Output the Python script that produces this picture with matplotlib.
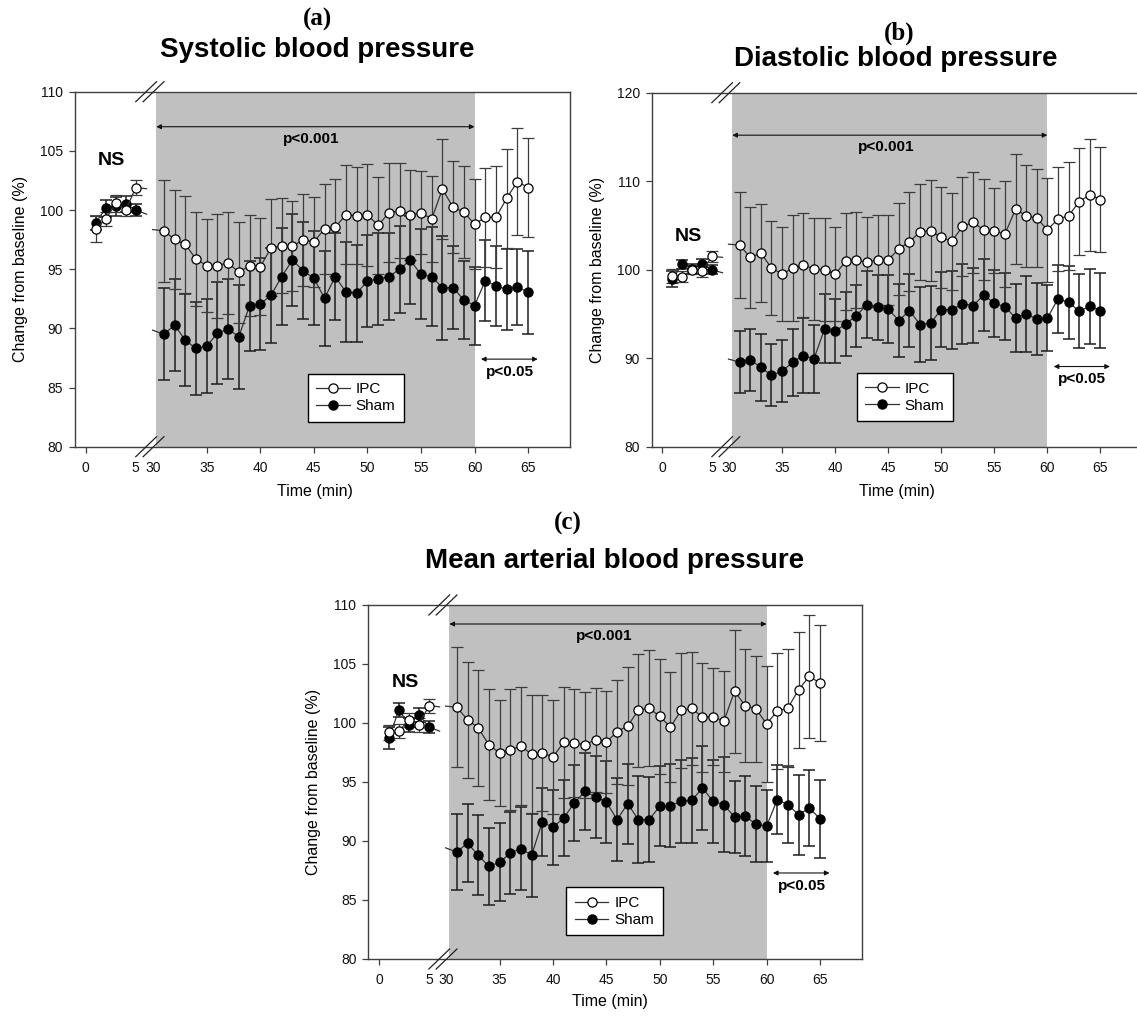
import numpy as np
import matplotlib
matplotlib.use('Agg')
import matplotlib.pyplot as plt
import matplotlib.transforms as mtransforms

plt.rcParams['font.family'] = ['Liberation Sans', 'DejaVu Sans']

# ---------------- data ----------------
base_t = [1, 2, 3, 4, 5]
main_t = list(range(31, 66))

# (a) Systolic
sbp_ipc_base = [98.4, 99.24, 100.56, 100.0, 101.9]
sbp_ipc_base_err = [1.1, 0.6, 0.7, 0.5, 0.6]
sbp_sham_base = [98.93, 100.14, 100.3, 100.5, 100.0]
sbp_sham_base_err = [0.6, 0.7, 0.8, 0.7, 0.5]
sbp_ipc = [98.25, 97.52, 97.1, 95.86, 95.3, 95.3, 95.55, 94.73, 95.3, 95.2,
           96.8, 96.99, 96.96, 97.46, 97.32, 98.4, 98.56, 99.6, 99.52, 99.6,
           98.7, 99.77, 99.94, 99.6, 99.77, 99.24, 101.77, 100.23, 99.83, 98.79,
           99.38, 99.38, 100.99, 102.4, 101.9]
sbp_ipc_err = [4.3, 4.2, 4.1, 4.0, 3.9, 4.4, 4.3, 4.3, 4.25, 4.1,
               4.1, 4.0, 3.8, 3.9, 3.8, 3.8, 4.1, 4.2, 4.1, 4.3,
               4.1, 4.2, 4.0, 3.8, 3.5, 3.6, 4.2, 3.9, 3.9, 3.8,
               4.2, 4.3, 4.2, 4.5, 4.2]
sbp_sham = [89.5, 90.28, 89.0, 88.3, 88.5, 89.58, 89.94, 89.3, 91.9, 92.04,
            92.8, 94.37, 95.77, 94.87, 94.25, 92.54, 94.37, 93.07, 92.96, 94.0,
            94.17, 94.37, 94.99, 95.77, 94.56, 94.37, 93.44, 93.44, 92.4, 91.92,
            94.03, 93.58, 93.3, 93.52, 93.04]
sbp_sham_err = [3.9, 3.9, 3.9, 3.9, 4.0, 4.3, 4.25, 4.4, 3.8, 3.9,
                4.0, 4.1, 3.9, 4.1, 4.0, 4.0, 3.7, 4.2, 4.1, 3.9,
                3.9, 3.7, 3.7, 3.7, 3.8, 4.2, 4.4, 3.5, 3.3, 3.3,
                3.4, 3.4, 3.4, 3.2, 3.5]

# (b) Diastolic
dbp_ipc_base = [99.3, 99.2, 100.0, 99.8, 101.5]
dbp_ipc_base_err = [0.8, 0.6, 0.5, 0.6, 0.6]
dbp_sham_base = [98.9, 100.6, 100.1, 100.6, 100.0]
dbp_sham_base_err = [0.9, 0.5, 0.6, 0.6, 0.5]
dbp_ipc = [102.78, 101.39, 101.88, 100.19, 99.51, 100.19, 100.53, 100.08, 100.0, 99.51,
           100.94, 101.09, 100.83, 101.13, 101.13, 102.33, 103.16, 104.29, 104.4, 103.65,
           103.2, 104.89, 105.34, 104.51, 104.4, 104.02, 106.84, 106.09, 105.83, 104.51,
           105.71, 106.09, 107.7, 108.46, 107.93]
dbp_ipc_err = [6.0, 5.75, 5.5, 5.3, 5.3, 6.0, 5.9, 5.75, 5.8, 5.3,
               5.5, 5.4, 5.1, 5.1, 5.1, 5.2, 5.6, 5.4, 5.7, 5.7,
               5.5, 5.6, 5.7, 5.7, 4.8, 6.0, 6.2, 5.75, 5.5, 5.9,
               5.9, 6.1, 6.0, 6.35, 5.9]
dbp_sham = [89.55, 89.81, 88.98, 88.05, 88.53, 89.55, 90.3, 89.92, 93.31, 93.05,
            93.87, 94.81, 96.05, 95.75, 95.56, 94.25, 95.38, 93.8, 93.98, 95.49,
            95.49, 96.13, 95.94, 97.14, 96.2, 95.83, 94.55, 95.0, 94.44, 94.55,
            96.69, 96.32, 95.3, 95.86, 95.38]
dbp_sham_err = [3.5, 3.5, 3.8, 3.5, 3.5, 3.8, 4.2, 3.8, 3.9, 3.6,
                3.6, 3.5, 3.8, 3.7, 3.8, 4.1, 4.1, 4.2, 4.2, 4.2,
                4.4, 4.5, 4.2, 4.1, 3.8, 3.8, 3.8, 4.3, 4.1, 3.7,
                3.8, 4.1, 4.2, 4.2, 4.2]

# (c) Mean arterial
map_ipc_base = [99.2, 99.3, 100.28, 99.86, 101.47]
map_ipc_base_err = [0.6, 0.6, 0.6, 0.6, 0.6]
map_sham_base = [98.73, 101.13, 99.86, 100.7, 99.66]
map_sham_base_err = [0.9, 0.6, 0.6, 0.6, 0.5]
map_ipc = [101.33, 100.28, 99.58, 98.16, 97.46, 97.74, 98.02, 97.37, 97.46, 97.12,
           98.36, 98.31, 98.16, 98.59, 98.39, 99.24, 99.77, 101.07, 101.27, 100.56,
           99.66, 101.07, 101.24, 100.48, 100.54, 100.14, 102.68, 101.47, 101.19, 99.94,
           100.99, 101.27, 102.82, 103.95, 103.39]
map_ipc_err = [5.1, 4.9, 4.9, 4.7, 4.5, 5.1, 5.0, 5.0, 4.9, 4.8,
               4.7, 4.6, 4.5, 4.4, 4.3, 4.4, 5.0, 4.8, 4.9, 4.9,
               4.7, 4.9, 4.8, 4.6, 4.1, 4.3, 5.2, 4.8, 4.5, 4.9,
               4.9, 5.0, 4.9, 5.2, 4.9]
map_sham = [89.07, 89.83, 88.79, 87.85, 88.19, 88.98, 89.35, 88.79, 91.61, 91.16,
            91.95, 93.22, 94.21, 93.73, 93.31, 91.81, 93.16, 91.81, 91.81, 92.94,
            92.99, 93.36, 93.45, 94.49, 93.36, 93.08, 92.03, 92.09, 91.44, 91.24,
            93.5, 93.08, 92.23, 92.8, 91.89]
map_sham_err = [3.2, 3.3, 3.4, 3.25, 3.3, 3.5, 3.5, 3.5, 2.9, 3.2,
                3.2, 3.2, 3.25, 3.5, 3.5, 3.5, 3.4, 3.7, 3.6, 3.4,
                3.5, 3.5, 3.6, 3.6, 3.5, 4.0, 3.05, 3.4, 3.2, 3.05,
                2.9, 3.25, 3.4, 3.2, 3.3]

tick_vals = [0, 5, 30, 35, 40, 45, 50, 55, 60, 65]
titles = ['Systolic blood pressure', 'Diastolic blood pressure', 'Mean arterial blood pressure']
letters = ['(a)', '(b)', '(c)']
series_labels = ['IPC', 'Sham']


def xmap(t):
    t = np.asarray(t, dtype=float)
    return np.where(t <= 10, t * 0.935, t - 23.71)


W, H = 1137, 1018
fig = plt.figure(figsize=(W / 100, H / 100), dpi=100)


def px_axes(left, top, right, bottom):
    return fig.add_axes([left / W, 1 - bottom / H, (right - left) / W, (bottom - top) / H])


panels = [
    dict(box=(75, 91.7, 570, 446.7), ylim=(80, 110), yticks=np.arange(80, 111, 5),
         ipc_b=sbp_ipc_base, ipc_be=sbp_ipc_base_err, sham_b=sbp_sham_base, sham_be=sbp_sham_base_err,
         ipc=sbp_ipc, ipc_e=sbp_ipc_err, sham=sbp_sham, sham_e=sbp_sham_err,
         p001=(107.04, 106.0), p05=(87.4, 86.3), ns=104.2, leg=(0.567, 0.1375),
         letter=(318, 19), title=(317, 50), xl=(0.485, -0.106)),
    dict(box=(651.7, 92.7, 1141.9, 446.7), ylim=(80, 120), yticks=np.arange(80, 121, 10),
         ipc_b=dbp_ipc_base, ipc_be=dbp_ipc_base_err, sham_b=dbp_sham_base, sham_be=dbp_sham_base_err,
         ipc=dbp_ipc, ipc_e=dbp_ipc_err, sham=dbp_sham, sham_e=dbp_sham_err,
         p001=(115.2, 113.85), p05=(89.06, 87.65), ns=103.8, leg=(0.516, 0.1395),
         letter=(899, 33), title=(896, 59), xl=(0.50, -0.106)),
    dict(box=(368.3, 605, 861.7, 959), ylim=(80, 110), yticks=np.arange(80, 111, 5),
         ipc_b=map_ipc_base, ipc_be=map_ipc_base_err, sham_b=map_sham_base, sham_be=map_sham_base_err,
         ipc=map_ipc, ipc_e=map_ipc_err, sham=map_sham, sham_e=map_sham_err,
         p001=(108.39, 107.4), p05=(87.29, 86.2), ns=103.47, leg=(0.499, 0.1345),
         letter=(568, 523), title=(615, 561), xl=(0.49, -0.1)),
]

line_col = '#333333'
for i, p in enumerate(panels):
    ax = px_axes(*p['box'])
    ax.set_xlim(-1.0, 45.2)
    ax.set_ylim(*p['ylim'])
    ax.axvspan(float(xmap(30.3)), float(xmap(60)), color='#c0c0c0', lw=0, zorder=0)

    handles = []
    for name, mfc, ecol, elw in (('sham', 'black', '#1e1e1e', 1.1), ('ipc', 'white', '#3c3c3c', 0.9)):
        for tt, yy, ee in ((base_t, p[name + '_b'], p[name + '_be']), (main_t, p[name], p[name + '_e'])):
            ax.errorbar(xmap(tt), yy, yerr=ee, fmt='none', ecolor=ecol, elinewidth=elw,
                        capsize=4.6, capthick=elw, zorder=2)
            ln, = ax.plot(xmap(tt), yy, '-', color=line_col, lw=0.9, marker='o', ms=6.6,
                          mfc=mfc, mec='black', mew=0.9, zorder=3)
        # short stubs at the axis break
        y5 = p[name + '_b'][-1]
        y31 = p[name][0]
        d = 0.35 if name == 'sham' else 0.1
        ax.plot([float(xmap(5)), float(xmap(5)) + 1.0], [y5, y5 - d], '-', color=line_col, lw=0.9, zorder=2.5)
        ax.plot([float(xmap(31)) - 1.05, float(xmap(31))], [y31 + d, y31], '-', color=line_col, lw=0.9, zorder=2.5)
        handles.append(ln)
    handles = handles[::-1]

    # ticks
    ax.set_xticks(xmap(tick_vals))
    ax.set_xticklabels([str(v) for v in tick_vals])
    ax.set_yticks(p['yticks'])
    ax.set_yticklabels([str(int(v)) for v in p['yticks']])
    ax.tick_params(axis='both', direction='out', length=4.5, width=0.9, color='#404040',
                   labelsize=10, labelcolor='#111111')
    ax.tick_params(axis='x', pad=5.5)
    ax.tick_params(axis='y', pad=4.0)
    xt = ax.xaxis.get_major_ticks()
    xt[1].tick1line.set_visible(False)
    xt[2].tick1line.set_visible(False)
    for s in ax.spines.values():
        s.set_color('#404040')
        s.set_linewidth(1.0)

    # break marks
    trans = mtransforms.blended_transform_factory(ax.transData, ax.transAxes)
    dy = 10.0 / (p['box'][3] - p['box'][1])
    for yb in (0.0, 1.0):
        for xc in (5.64, 6.33):
            ax.plot([xc - 0.97, xc + 0.97], [yb - dy, yb + dy], color='#222222', lw=0.9,
                    transform=trans, clip_on=False, zorder=5)

    # annotations
    ax.annotate('', xy=(float(xmap(60)), p['p001'][0]), xytext=(float(xmap(30.3)), p['p001'][0]),
                arrowprops=dict(arrowstyle='<|-|>', lw=0.8, color='#111111', mutation_scale=7,
                                shrinkA=0, shrinkB=0), zorder=4)
    ax.text(float(xmap(44.8)), p['p001'][1], 'p<0.001', ha='center', va='center',
            fontsize=11, fontweight='bold', zorder=4)
    ax.annotate('', xy=(float(xmap(65.9)), p['p05'][0]), xytext=(float(xmap(60.6)), p['p05'][0]),
                arrowprops=dict(arrowstyle='<|-|>', lw=0.8, color='#111111', mutation_scale=7,
                                shrinkA=0, shrinkB=0), zorder=4)
    ax.text(float(xmap(63.3)), p['p05'][1], 'p<0.05', ha='center', va='center',
            fontsize=11, fontweight='bold', zorder=4)
    ax.text(float(xmap(2.6)), p['ns'], 'NS', ha='center', va='center',
            fontsize=14, fontweight='bold', zorder=4)

    leg = ax.legend(handles, series_labels, loc='center', bbox_to_anchor=p['leg'],
                    fontsize=11, frameon=True, fancybox=False, edgecolor='black',
                    framealpha=1, handlelength=2.2, handletextpad=0.4, borderpad=0.55,
                    labelspacing=0.2, borderaxespad=0)
    leg.get_frame().set_linewidth(1.0)
    leg.set_zorder(6)

    ax.set_ylabel('Change from baseline (%)', fontsize=11.5)
    ax.yaxis.set_label_coords(-0.095, 0.5)
    ax.set_xlabel('Time (min)', fontsize=11.5)
    ax.xaxis.set_label_coords(p['xl'][0], p['xl'][1])

    lx, ly = p['letter']
    fig.text(lx / W, 1 - ly / H, letters[i], ha='center', va='center', fontsize=18,
             fontweight='bold', family=['Liberation Serif', 'DejaVu Serif'])
    tx, ty = p['title']
    fig.text(tx / W, 1 - ty / H, titles[i], ha='center', va='center', fontsize=20,
             fontweight='bold')

fig.savefig('out.png', dpi=100)
